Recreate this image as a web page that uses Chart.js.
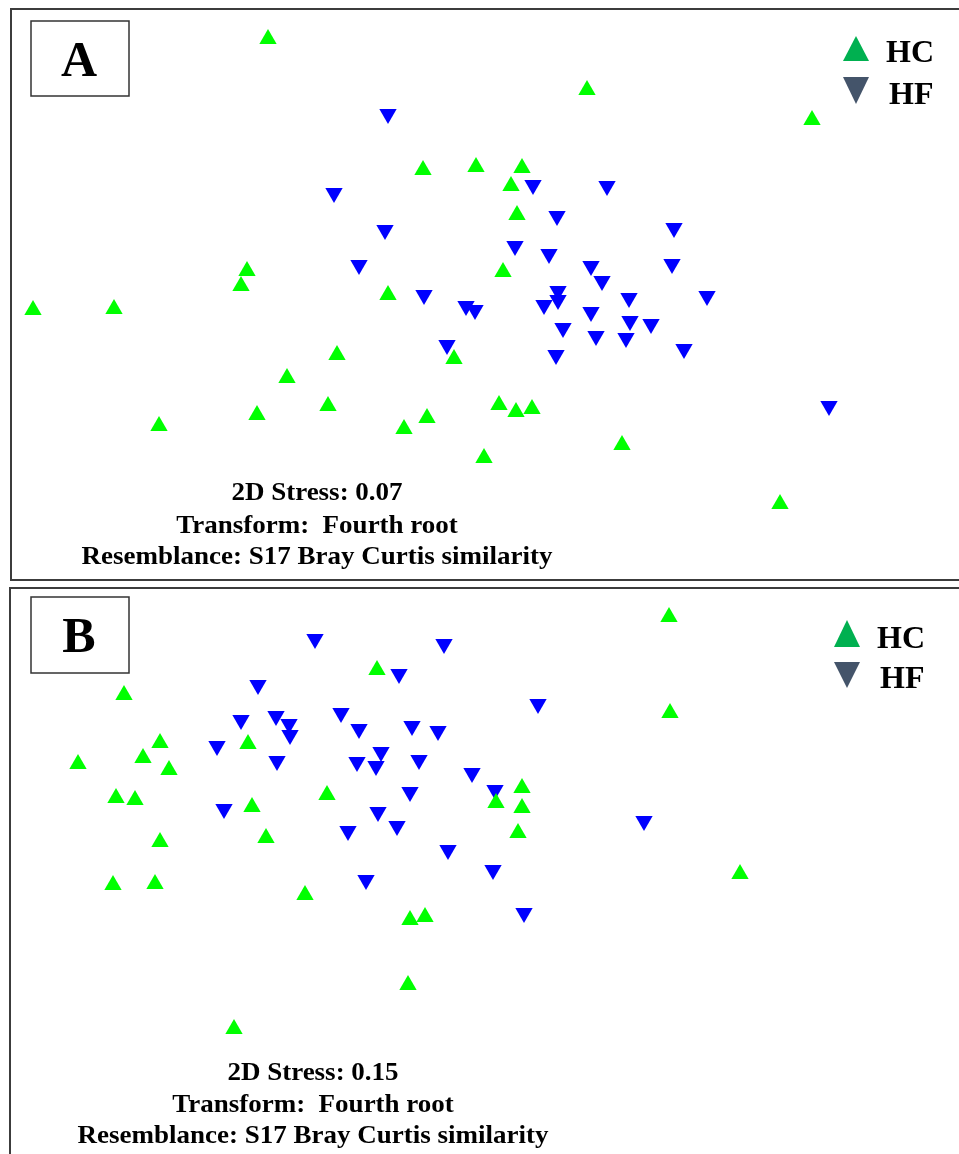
<!DOCTYPE html>
<html>
<head>
<meta charset="utf-8">
<script src="https://cdn.jsdelivr.net/npm/chart.js@4/dist/chart.umd.min.js"></script>
<style>
  body { margin: 0; background: #fff; }
  canvas { position: absolute; left: 0; }
  #chartA { top: 0; }
  #chartB { top: 584px; }
</style>
</head>
<body>
<canvas id="chartA" width="959" height="584"></canvas>
<canvas id="chartB" width="959" height="570"></canvas>
<script>
// nMDS ordination (arbitrary units, y grows downwards)
const hcA_x = [268, 587, 812, 423, 476, 522, 511, 517, 247, 241, 503, 388, 33, 114, 337, 454, 287, 328, 257, 159, 404, 427, 499, 516, 532, 484, 622, 780];
const hcA_y = [39, 90, 120, 170, 167, 168, 186, 215, 271, 286, 272, 295, 310, 309, 355, 359, 378, 406, 415, 426, 429, 418, 405, 412, 409, 458, 445, 504];
const hfA_x = [388, 334, 385, 359, 424, 533, 607, 557, 674, 515, 549, 591, 602, 672, 558, 558, 544, 629, 707, 466, 475, 591, 630, 651, 563, 596, 626, 684, 447, 556, 829];
const hfA_y = [114, 193, 230, 265, 295, 185, 186, 216, 228, 246, 254, 266, 281, 264, 291, 300, 305, 298, 296, 306, 310, 312, 321, 324, 328, 336, 338, 349, 345, 355, 406];

const hcB_x = [669, 377, 124, 670, 160, 248, 143, 78, 169, 116, 135, 327, 252, 522, 496, 522, 518, 160, 266, 740, 113, 155, 305, 410, 425, 408, 234];
const hcB_y = [33, 86, 111, 129, 159, 160, 174, 180, 186, 214, 216, 211, 223, 204, 219, 224, 249, 258, 254, 290, 301, 300, 311, 336, 333, 401, 445];
const hfB_x = [315, 444, 399, 258, 241, 276, 289, 290, 341, 359, 412, 438, 538, 217, 277, 357, 381, 376, 419, 472, 410, 224, 378, 397, 348, 448, 495, 644, 493, 366, 524];
const hfB_y = [55, 60, 90, 101, 136, 132, 140, 151, 129, 145, 142, 147, 120, 162, 177, 178, 168, 182, 176, 189, 208, 225, 228, 242, 247, 266, 206, 237, 286, 296, 329];

const groups = ['HC', 'HF'];
const stressA = ['2D Stress: 0.07', 'Transform:  Fourth root', 'Resemblance: S17 Bray Curtis similarity'];
const stressB = ['2D Stress: 0.15', 'Transform:  Fourth root', 'Resemblance: S17 Bray Curtis similarity'];

function pts(xs, ys) {
    return xs.map((x, i) => ({ x: x, y: ys[i] }));
}

// frame, panel letter, legend and stress notes
const panelDecor = {
    id: 'panelDecor',
    afterDraw(chart, args, o) {
        const ctx = chart.ctx;
        ctx.save();
        ctx.strokeStyle = '#3c3c3c';
        ctx.lineWidth = 2;
        ctx.beginPath();
        ctx.moveTo(959, o.top);
        ctx.lineTo(o.left, o.top);
        ctx.lineTo(o.left, o.bottom);
        if (o.closed) ctx.lineTo(959, o.bottom);
        ctx.stroke();

        ctx.lineWidth = 1.5;
        ctx.strokeStyle = '#333';
        ctx.strokeRect(31, o.boxTop, 98, o.boxH);
        ctx.fillStyle = '#000';
        ctx.font = 'bold 50px "Liberation Serif"';
        ctx.textAlign = 'center';
        ctx.textBaseline = 'alphabetic';
        ctx.fillText(o.letter, 79, o.boxTop + 55);

        // legend
        const lx = o.legX;
        ctx.fillStyle = '#00b050';
        ctx.beginPath();
        ctx.moveTo(lx, 36);
        ctx.lineTo(lx + 13, o.hcBase);
        ctx.lineTo(lx - 13, o.hcBase);
        ctx.closePath();
        ctx.fill();
        ctx.fillStyle = '#44546a';
        ctx.beginPath();
        ctx.moveTo(lx - 13, o.hfTop);
        ctx.lineTo(lx + 13, o.hfTop);
        ctx.lineTo(lx, 104);
        ctx.closePath();
        ctx.fill();
        ctx.fillStyle = '#000';
        ctx.textAlign = 'left';
        ctx.font = 'bold 32px "Liberation Serif"';
        ctx.fillText(groups[0], lx + 30, o.hcBase + 1);
        ctx.fillText(groups[1], lx + 33, 104);

        ctx.font = 'bold 25px "Liberation Serif"';
        ctx.textAlign = 'center';
        o.lines.forEach((t, i) => {
            ctx.save();
            ctx.translate(o.textX, o.textY[i]);
            ctx.scale(1.08, 1);
            ctx.fillText(t, 0, 0);
            ctx.restore();
        });
        ctx.restore();
    }
};

function makeChart(id, hc, hf, yMax, decor) {
    return new Chart(document.getElementById(id), {
        type: 'scatter',
        data: {
            datasets: [{
                label: groups[0],
                data: hc,
                pointStyle: 'triangle',
                pointRadius: 10,
                pointBorderWidth: 0,
                backgroundColor: '#00ff00'
            }, {
                label: groups[1],
                data: hf,
                pointStyle: 'triangle',
                pointRotation: 180,
                pointRadius: 10,
                pointBorderWidth: 0,
                backgroundColor: '#0000ff'
            }]
        },
        options: {
            responsive: false,
            animation: false,
            devicePixelRatio: 1,
            layout: { padding: 0, autoPadding: false },
            scales: {
                x: { display: false, min: 0, max: 959 },
                y: { display: false, min: 0, max: yMax, reverse: true }
            },
            plugins: {
                legend: { display: false },
                tooltip: { enabled: false },
                panelDecor: decor
            }
        },
        plugins: [panelDecor]
    });
}

makeChart('chartA', pts(hcA_x, hcA_y), pts(hfA_x, hfA_y), 584, {
    top: 9, left: 11, bottom: 580, closed: true,
    boxTop: 21, boxH: 75, letter: 'A',
    legX: 856, hcBase: 61, hfTop: 77,
    lines: stressA, textX: 317, textY: [500, 533, 564]
});
makeChart('chartB', pts(hcB_x, hcB_y), pts(hfB_x, hfB_y), 570, {
    top: 4, left: 10, bottom: 570, closed: false,
    boxTop: 13, boxH: 76, letter: 'B',
    legX: 847, hcBase: 63, hfTop: 78,
    lines: stressB, textX: 313, textY: [496, 528, 559]
});
</script>
</body>
</html>
